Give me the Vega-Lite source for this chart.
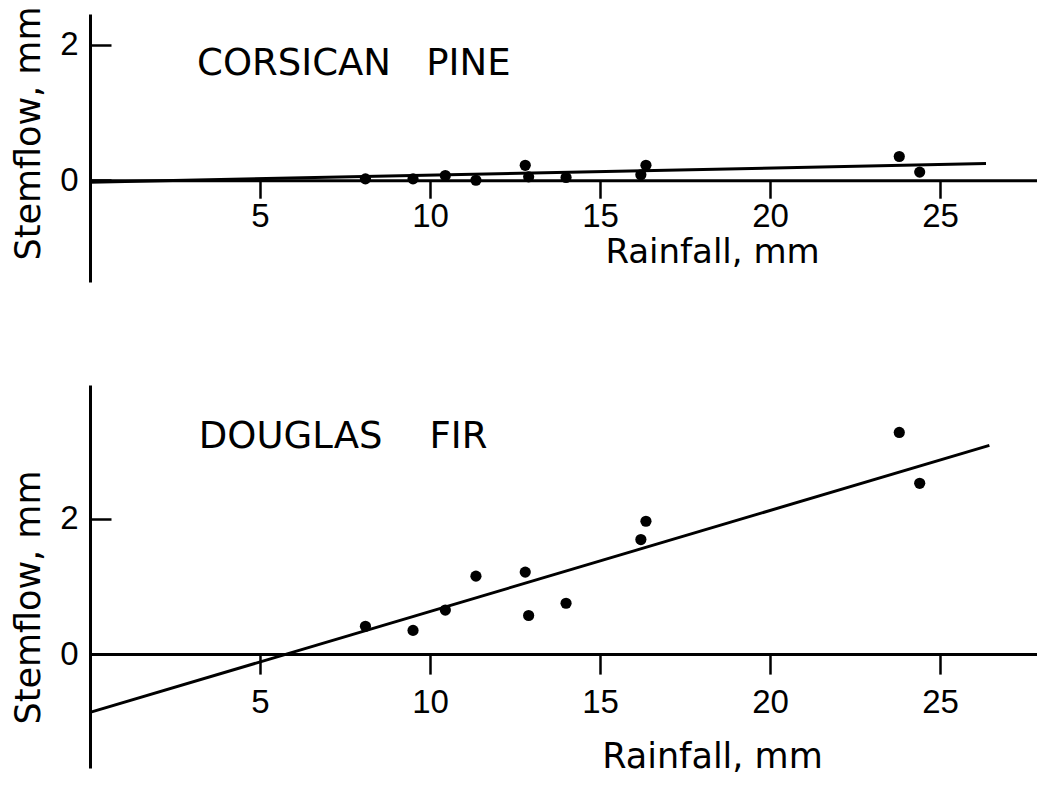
{
  "$schema": "https://vega.github.io/schema/vega-lite/v6.json",
  "background": "white",
  "padding": {"left": 10, "top": 5, "right": 0, "bottom": 0},
  "bounds": "flush",
  "spacing": 103,
  "config": {
    "view": {"stroke": null},
    "font": "DejaVu Sans",
    "axis": {
      "grid": false,
      "domainColor": "black",
      "domainWidth": 3,
      "tickColor": "black",
      "tickWidth": 2.5,
      "labelColor": "black",
      "labelFont": "Liberation Sans",
      "labelFontSize": 33,
      "titleColor": "black",
      "titleFont": "DejaVu Sans",
      "titleFontSize": 35,
      "titleFontWeight": "normal"
    }
  },
  "datasets": {
    "corsican": [
      {"rainfall": 8.1, "stemflow": 0.02},
      {"rainfall": 9.5, "stemflow": 0.02},
      {"rainfall": 10.45, "stemflow": 0.07},
      {"rainfall": 11.35, "stemflow": 0.0},
      {"rainfall": 12.8, "stemflow": 0.22},
      {"rainfall": 12.9, "stemflow": 0.05},
      {"rainfall": 14.0, "stemflow": 0.04},
      {"rainfall": 16.2, "stemflow": 0.08},
      {"rainfall": 16.35, "stemflow": 0.22},
      {"rainfall": 23.8, "stemflow": 0.35},
      {"rainfall": 24.4, "stemflow": 0.12}
    ],
    "corsican_fit": [
      {"rainfall": 0, "stemflow": -0.03},
      {"rainfall": 26.35, "stemflow": 0.245}
    ],
    "douglas": [
      {"rainfall": 8.1, "stemflow": 0.41},
      {"rainfall": 9.5, "stemflow": 0.35},
      {"rainfall": 10.45, "stemflow": 0.65},
      {"rainfall": 11.35, "stemflow": 1.15},
      {"rainfall": 12.8, "stemflow": 1.21},
      {"rainfall": 12.9, "stemflow": 0.57},
      {"rainfall": 14.0, "stemflow": 0.75},
      {"rainfall": 16.2, "stemflow": 1.69},
      {"rainfall": 16.35, "stemflow": 1.96},
      {"rainfall": 23.8, "stemflow": 3.27},
      {"rainfall": 24.4, "stemflow": 2.52}
    ],
    "douglas_fit": [
      {"rainfall": 0, "stemflow": -0.86},
      {"rainfall": 26.45, "stemflow": 3.08}
    ],
    "corsican_label": [
      {"rainfall": 3.15, "stemflow": 1.545, "name": "CORSICAN\u00a0\u00a0\u00a0PINE"}
    ],
    "douglas_label": [
      {"rainfall": 3.2, "stemflow": 3.04, "name": "DOUGLAS\u00a0\u00a0\u00a0\u00a0FIR"}
    ]
  },
  "vconcat": [
    {
      "width": 947,
      "height": 268,
      "layer": [
        {
          "data": {"name": "corsican_fit"},
          "mark": {"type": "line", "color": "black", "strokeWidth": 3},
          "encoding": {
            "x": {
              "field": "rainfall",
              "type": "quantitative",
              "scale": {"domain": [0, 27.85], "nice": false, "zero": false},
              "axis": {
                "title": "Rainfall, mm",
                "values": [5, 10, 15, 20, 25],
                "format": "d",
                "offset": -101.8,
                "tickSize": 18,
                "labelPadding": 2,
                "titleFontSize": 34,
                "titleX": 622,
                "titleY": 82,
                "titleAlign": "center",
                "titleBaseline": "alphabetic"
              }
            },
            "y": {
              "field": "stemflow",
              "type": "quantitative",
              "scale": {"domain": [-1.5, 2.45], "nice": false, "zero": false},
              "axis": {
                "title": "Stemflow, mm",
                "values": [0, 2],
                "format": "d",
                "tickSize": -21,
                "labelPadding": 33,
                "titleX": -62,
                "titleY": 119,
                "titleAngle": -90,
                "titleAlign": "center",
                "titleBaseline": "middle"
              }
            }
          }
        },
        {
          "data": {"name": "corsican"},
          "mark": {"type": "circle", "size": 125, "color": "black", "opacity": 1},
          "encoding": {
            "x": {"field": "rainfall", "type": "quantitative"},
            "y": {"field": "stemflow", "type": "quantitative"}
          }
        },
        {
          "data": {"name": "corsican_label"},
          "mark": {"type": "text", "fontSize": 37, "font": "DejaVu Sans", "align": "left", "baseline": "alphabetic", "color": "black"},
          "encoding": {
            "x": {"field": "rainfall", "type": "quantitative"},
            "y": {"field": "stemflow", "type": "quantitative"},
            "text": {"field": "name"}
          }
        }
      ]
    },
    {
      "width": 947,
      "height": 383,
      "layer": [
        {
          "data": {"name": "douglas_fit"},
          "mark": {"type": "line", "color": "black", "strokeWidth": 3},
          "encoding": {
            "x": {
              "field": "rainfall",
              "type": "quantitative",
              "scale": {"domain": [0, 27.85], "nice": false, "zero": false},
              "axis": {
                "title": "Rainfall, mm",
                "values": [5, 10, 15, 20, 25],
                "format": "d",
                "offset": -113.9,
                "tickSize": 20,
                "labelPadding": 12,
                "titleX": 622,
                "titleY": 113,
                "titleAlign": "center",
                "titleBaseline": "alphabetic"
              }
            },
            "y": {
              "field": "stemflow",
              "type": "quantitative",
              "scale": {"domain": [-1.68, 3.97], "nice": false, "zero": false},
              "axis": {
                "title": "Stemflow, mm",
                "values": [0, 2],
                "format": "d",
                "tickSize": -21,
                "labelPadding": 33,
                "titleX": -62,
                "titleY": 212,
                "titleAngle": -90,
                "titleAlign": "center",
                "titleBaseline": "middle"
              }
            }
          }
        },
        {
          "data": {"name": "douglas"},
          "mark": {"type": "circle", "size": 125, "color": "black", "opacity": 1},
          "encoding": {
            "x": {"field": "rainfall", "type": "quantitative"},
            "y": {"field": "stemflow", "type": "quantitative"}
          }
        },
        {
          "data": {"name": "douglas_label"},
          "mark": {"type": "text", "fontSize": 37, "font": "DejaVu Sans", "align": "left", "baseline": "alphabetic", "color": "black"},
          "encoding": {
            "x": {"field": "rainfall", "type": "quantitative"},
            "y": {"field": "stemflow", "type": "quantitative"},
            "text": {"field": "name"}
          }
        }
      ]
    }
  ]
}
